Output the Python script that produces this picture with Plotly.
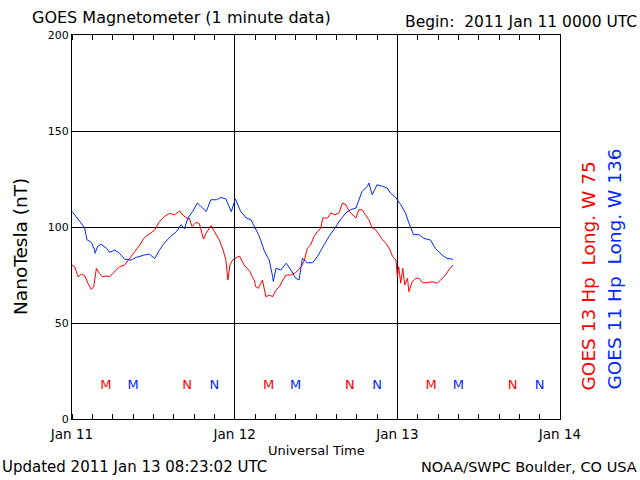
import pandas as pd
import plotly.graph_objects as go

START = "2011-01-11"

# GOES 13 Hp (red) – hours since 2011-01-11 00:00 UT, nT
g13_hours = [0, 0.4, 0.9, 1.4, 1.9, 2.35, 2.85, 3.2, 3.6, 4.0, 4.5, 5.06, 5.55, 6.3, 7.0, 7.76,
             8.5, 9.2, 10.0, 10.7, 11.4, 12.2, 12.9, 13.6, 14.4, 15.1, 15.9, 16.3, 17.1, 17.3,
             17.7, 18.3, 18.8, 19.4, 19.8, 20.5, 21.0, 21.7, 22.3, 22.7, 23.0, 23.3, 23.7, 24.2,
             24.7, 25.4, 26.2, 26.6, 26.9, 27.1, 27.5, 28.1, 28.6, 29.1, 29.6, 30.1, 30.6, 31.1,
             31.6, 32.3, 33.0, 33.8, 34.3, 34.7, 35.2, 35.7, 36.2, 36.7, 37.0, 37.7, 38.2, 38.8,
             39.4, 39.9, 40.4, 40.9, 41.4, 41.9, 42.3, 42.8, 43.3, 43.8, 44.3, 44.8, 45.3, 45.8,
             46.3, 46.8, 47.3, 47.8, 48.0, 48.2, 48.5, 48.8, 49.1, 49.5, 49.7, 50.2, 50.7, 51.2,
             51.7, 52.4, 53.1, 53.9, 54.4, 55.1, 55.6, 56.2]
g13_values = [80.2, 79.3, 74.1, 75.5, 74.5, 70.7, 67.5, 68.9, 78.5, 75.9, 74.1, 74.5, 74.1, 76.7, 79.3, 80.2,
              83.7, 87.1, 90.6, 94.6, 96.3, 98.4, 102.8, 105.4, 107.1, 106.3, 108.3, 106.3, 104.2, 104.7,
              100.3, 102.4, 101.7, 93.7, 96.8, 100.7, 97.7, 93.4, 88.0, 82.8, 72.4, 80.2, 82.8, 83.7,
              84.9, 80.2, 77.0, 74.1, 72.4, 68.9, 68.1, 72.4, 63.7, 64.6, 63.7, 67.2, 68.9, 72.4,
              75.0, 75.0, 76.2, 79.3, 82.8, 88.9, 90.6, 95.0, 97.6, 99.4, 104.7, 104.7, 107.3, 106.4,
              107.3, 112.5, 111.6, 108.1, 106.4, 104.7, 109.0, 109.0, 106.4, 103.8, 99.4, 98.6, 96.0, 93.4,
              91.6, 88.9, 84.6, 82.8, 74.1, 79.3, 70.7, 78.5, 69.8, 73.3, 66.3, 71.5, 73.3, 73.3,
              71.0, 71.0, 71.5, 70.7, 72.4, 75.0, 77.6, 80.2]

# GOES 11 Hp (blue)
g11_hours = [0, 0.4, 1.13, 1.87, 2.2, 2.85, 3.34, 3.4, 3.8, 4.3, 5.06, 5.55, 6.3, 7.0, 7.76, 8.74,
             9.5, 10.7, 11.4, 12.2, 12.9, 13.6, 14.4, 15.4, 16.1, 16.6, 17.1, 17.8, 18.5, 19.0,
             19.8, 20.5, 21.3, 22.0, 22.7, 23.5, 24.1, 24.9, 25.7, 26.4, 26.9, 27.6, 28.4, 29.1,
             29.6, 29.7, 30.1, 30.8, 31.6, 32.3, 33.0, 33.5, 34.0, 34.7, 35.5, 36.2, 36.9, 37.9,
             38.9, 39.6, 40.4, 41.1, 41.9, 42.4, 42.8, 43.6, 43.8, 44.3, 45.0, 45.8, 46.5, 47.0,
             47.8, 48.5, 49.2, 49.7, 50.4, 51.2, 51.9, 52.9, 53.6, 54.6, 55.3, 56.2]
g11_values = [108.1, 106.4, 103.0, 99.5, 93.4, 92.0, 88.0, 86.3, 90.0, 91.0, 89.0, 86.8, 88.0, 86.3, 83.2, 82.8,
              84.2, 85.4, 85.9, 83.6, 88.0, 91.5, 94.6, 97.6, 101.2, 99.0, 104.7, 108.1, 112.5, 110.8,
              108.1, 114.2, 114.2, 115.4, 114.6, 108.0, 114.6, 108.0, 104.7, 103.8, 100.0, 95.5, 87.3, 82.8,
              74.2, 71.6, 78.5, 77.6, 81.1, 77.6, 73.3, 72.4, 83.7, 81.4, 81.4, 84.5, 88.9, 95.0,
              100.0, 103.8, 107.3, 109.0, 109.9, 114.2, 118.6, 121.2, 122.9, 116.8, 122.0, 121.2, 120.3, 117.7,
              115.1, 111.6, 107.3, 102.1, 96.0, 96.0, 94.1, 93.2, 88.9, 85.4, 83.7, 83.2]

# Local midnight (M) / noon (N) markers, hours since start
g13_marker_hours = [5, 17, 29, 41, 53, 65]
g11_marker_hours = [9, 21, 33, 45, 57, 69]
marker_labels = ["M", "N", "M", "N", "M", "N"]
marker_level = 17.3

x_tick_vals = ["2011-01-11", "2011-01-12", "2011-01-13", "2011-01-14"]
x_tick_text = ["Jan 11", "Jan 12", "Jan 13", "Jan 14"]
y_tick_vals = [0, 50, 100, 150, 200]

RED = "#ff0000"
BLUE = "#0028ff"
FONT = "DejaVu Sans"


def to_time(hours):
    return pd.Timestamp(START) + pd.to_timedelta(hours, unit="h")


fig = go.Figure()
fig.add_trace(go.Scatter(x=to_time(g13_hours), y=g13_values, mode="lines",
                         line=dict(color=RED, width=1), hoverinfo="skip"))
fig.add_trace(go.Scatter(x=to_time(g11_hours), y=g11_values, mode="lines",
                         line=dict(color=BLUE, width=1), hoverinfo="skip"))
fig.add_trace(go.Scatter(x=to_time(g13_marker_hours), y=[marker_level] * 6, mode="text",
                         text=marker_labels, textfont=dict(color=RED, size=13, family=FONT),
                         textposition="middle center", hoverinfo="skip"))
fig.add_trace(go.Scatter(x=to_time(g11_marker_hours), y=[marker_level] * 6, mode="text",
                         text=marker_labels, textfont=dict(color=BLUE, size=13, family=FONT),
                         textposition="middle center", hoverinfo="skip"))

fig.update_layout(
    width=640, height=480,
    margin=dict(l=72, r=80, t=35, b=61),
    paper_bgcolor="white", plot_bgcolor="white",
    showlegend=False,
    font=dict(family=FONT, color="black"),
    xaxis=dict(
        range=[x_tick_vals[0], x_tick_vals[-1]],
        tickvals=x_tick_vals, ticktext=x_tick_text,
        tickfont=dict(size=13.5), ticks="", ticklabelstandoff=3,
        showgrid=True, gridcolor="black", gridwidth=1,
        showline=True, linecolor="black", linewidth=1, mirror="allticks",
        zeroline=False, automargin=False,
        minor=dict(dtick=3 * 3600 * 1000, ticks="inside", ticklen=5, tickcolor="black",
                   tickwidth=1, showgrid=False),
    ),
    yaxis=dict(
        range=[0, 200], tickvals=y_tick_vals,
        tickfont=dict(size=11), ticks="",
        showgrid=True, gridcolor="black", gridwidth=1,
        showline=True, linecolor="black", linewidth=1, mirror=True,
        zeroline=False, automargin=False,
    ),
)

ann = [
    dict(text="GOES Magnetometer (1 minute data)", x=-0.086, y=1.045, xanchor="left",
         yanchor="middle", font=dict(size=16)),
    dict(text="Begin:  2011 Jan 11 0000 UTC", x=1.162, y=1.033, xanchor="right",
         yanchor="middle", font=dict(size=15.5)),
    dict(text="Universal Time", x=0.5, y=-0.081, xanchor="center", yanchor="middle",
         font=dict(size=13)),
    dict(text="Updated 2011 Jan 13 08:23:02 UTC", x=-0.1475, y=-0.125, xanchor="left",
         yanchor="middle", font=dict(size=15)),
    dict(text="NOAA/SWPC Boulder, CO USA", x=1.162, y=-0.125, xanchor="right",
         yanchor="middle", font=dict(size=14.5)),
    dict(text="NanoTesla (nT)", x=-0.1045, y=0.448, xanchor="center", yanchor="middle",
         textangle=-90, font=dict(size=18.5)),
    dict(text="GOES 13 Hp  Long. W 75", x=1.0594, y=0.0703, xanchor="center",
         yanchor="bottom", textangle=-90, font=dict(size=18.5, color=RED)),
    dict(text="GOES 11 Hp  Long. W 136", x=1.1107, y=0.0703, xanchor="center",
         yanchor="bottom", textangle=-90, font=dict(size=18.5, color=BLUE)),
]
for a in ann:
    a.update(xref="paper", yref="paper", showarrow=False)
    fig.add_annotation(**a)

fig.write_html("out.html", config={"displayModeBar": False},
               post_script="document.body.style.margin='0px';")
